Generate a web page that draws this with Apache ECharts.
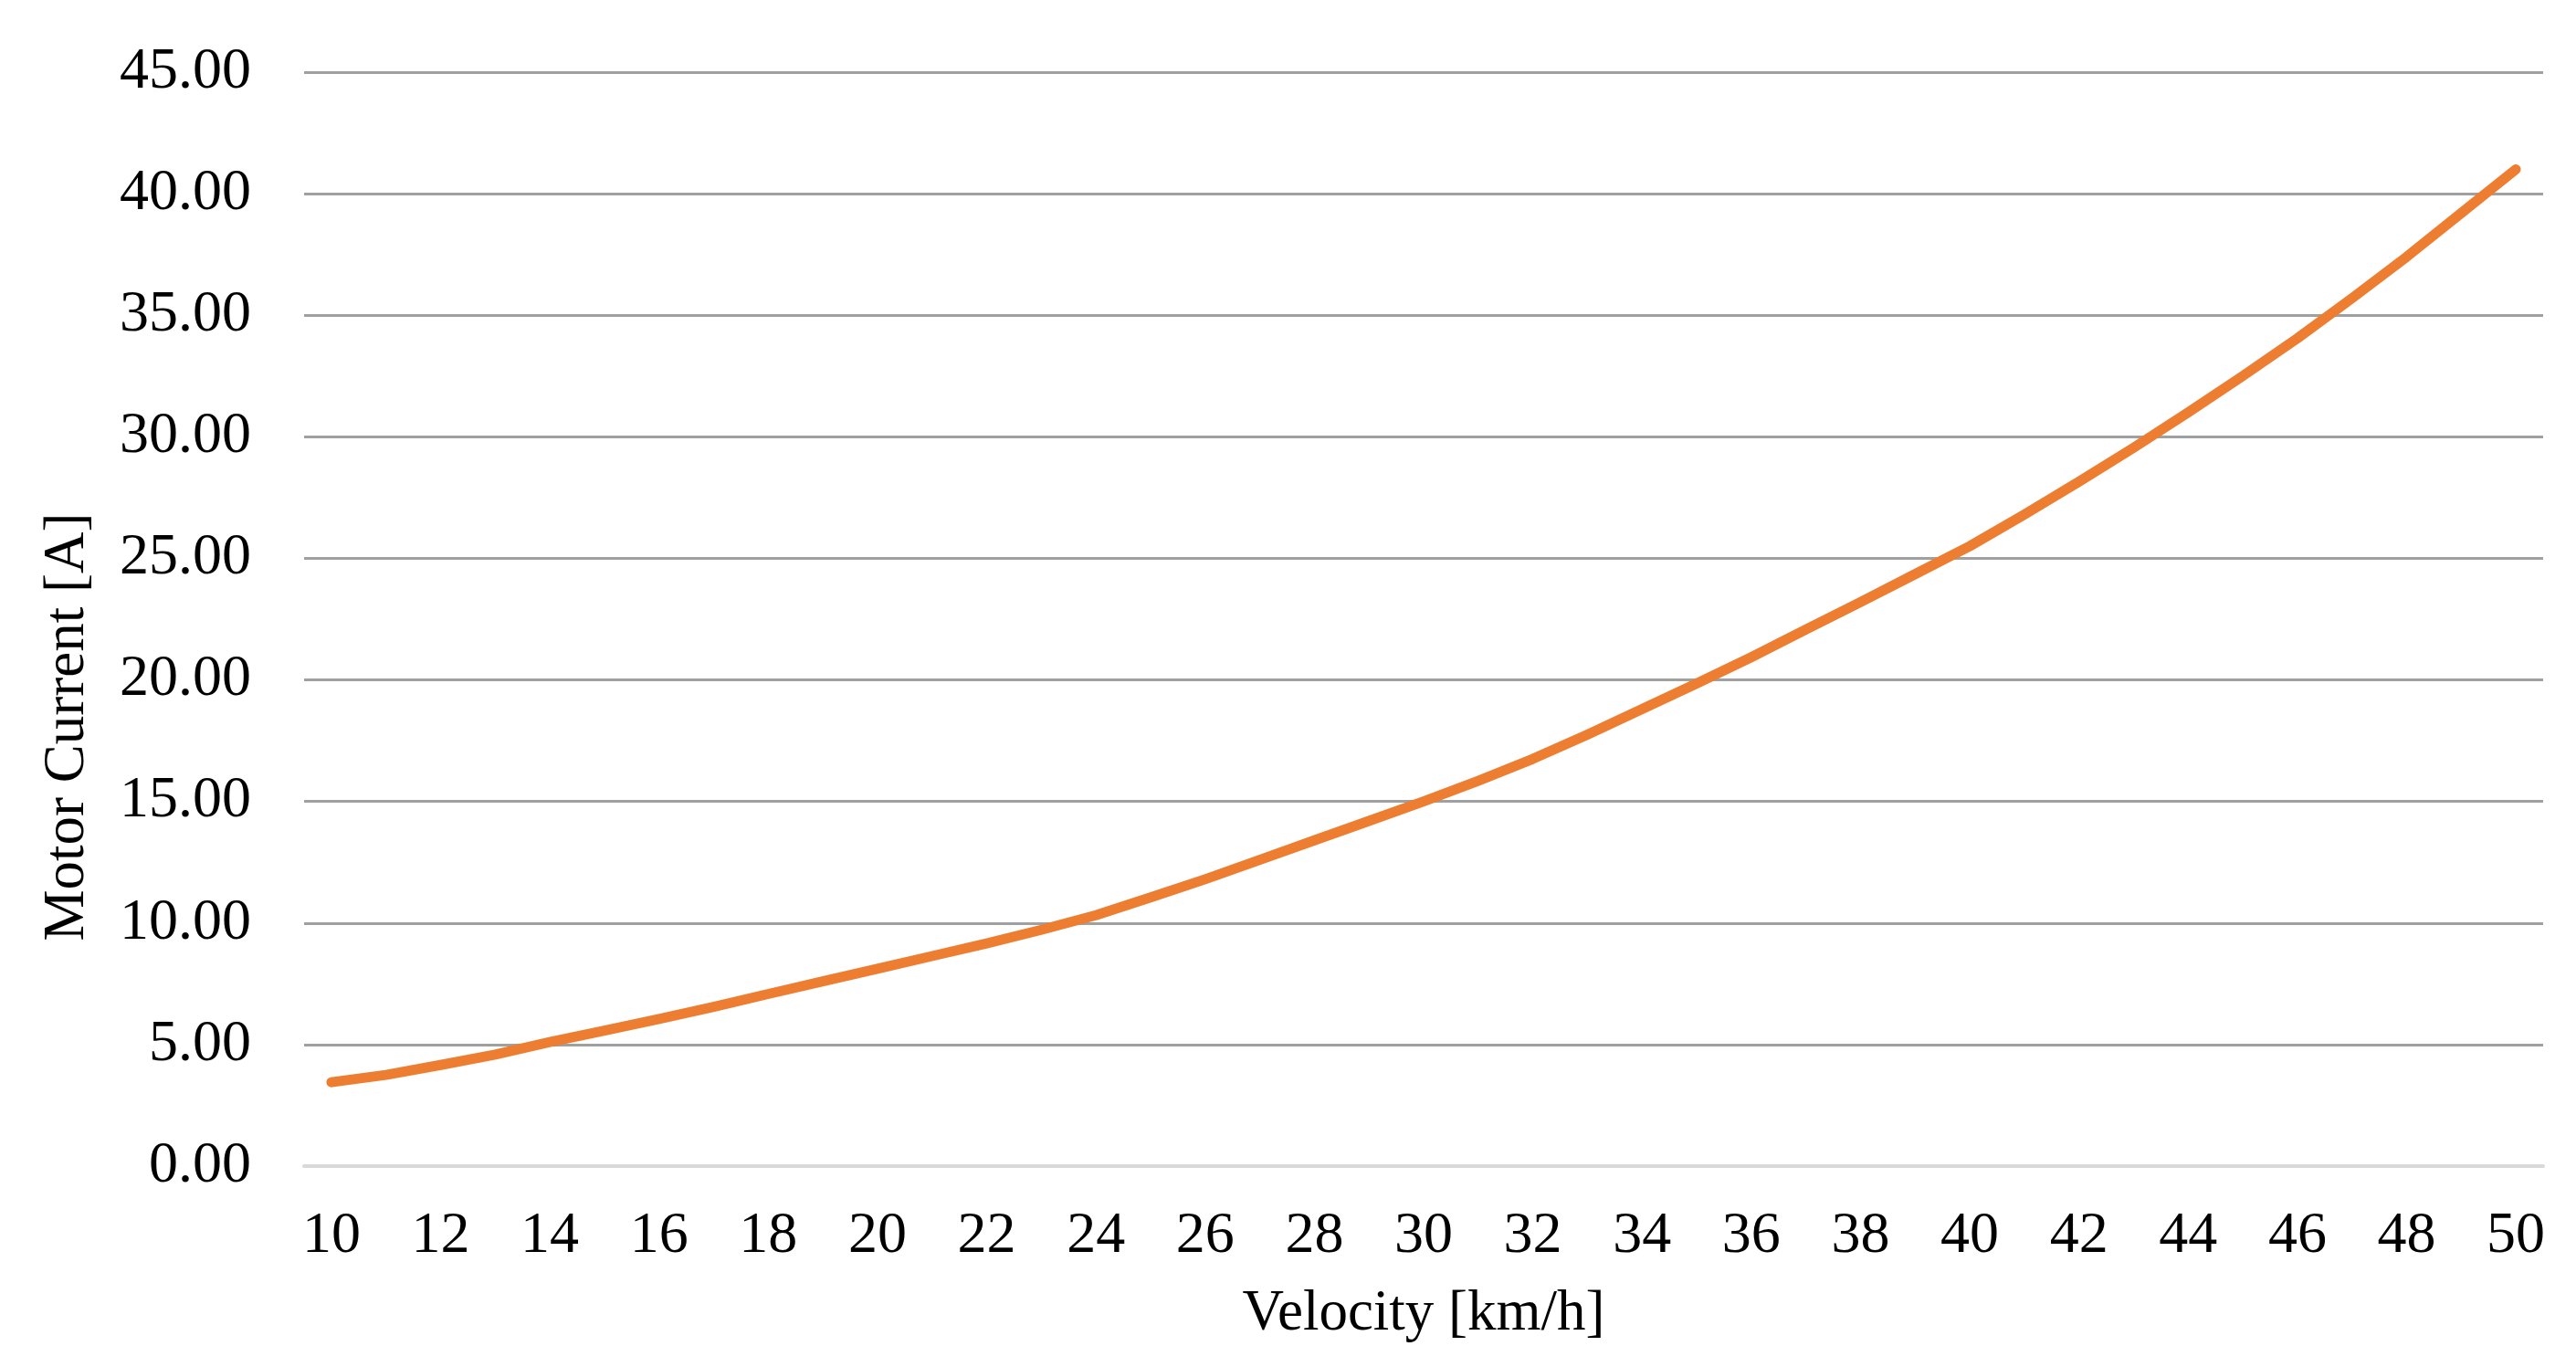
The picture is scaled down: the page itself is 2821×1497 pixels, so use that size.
<!DOCTYPE html>
<html>
<head>
<meta charset="utf-8">
<script src="https://cdn.jsdelivr.net/npm/echarts@6/dist/echarts.min.js"></script>
<style>
  html, body { margin: 0; padding: 0; background: #ffffff; }
  #chart { width: 2821px; height: 1497px; }
</style>
</head>
<body>
<div id="chart"></div>
<script>
// Velocity categories [km/h]
const velocity = [10,11,12,13,14,15,16,17,18,19,20,21,22,23,24,25,26,27,28,29,30,
                  31,32,33,34,35,36,37,38,39,40,41,42,43,44,45,46,47,48,49,50];
// Motor current [A]
const motorCurrent = [3.45,3.75,4.16,4.59,5.10,5.57,6.05,6.55,7.08,7.60,8.12,8.64,9.16,9.72,10.32,11.05,11.80,12.60,13.40,14.20,15.00,
                      15.85,16.75,17.75,18.80,19.85,20.93,22.07,23.20,24.35,25.50,26.80,28.15,29.55,31.00,32.50,34.05,35.70,37.40,39.20,41.00];
const yTicks = { min: 0, max: 45, step: 5 };
const xTitle = 'Velocity [km/h]';
const yTitle = 'Motor Current [A]';

const FONT = '"Liberation Serif", "Times New Roman", serif';
const chart = echarts.init(document.getElementById('chart'), null, { renderer: 'canvas' });
chart.setOption({
  backgroundColor: '#ffffff',
  animation: false,
  grid: { left: 333, right: 36, top: 79, bottom: 220, containLabel: false },
  xAxis: {
    type: 'category',
    data: velocity.map(String),
    boundaryGap: true,
    name: xTitle,
    nameLocation: 'middle',
    nameGap: 131,
    nameTextStyle: { fontFamily: FONT, fontSize: 63, color: '#000' },
    axisLine: { show: true, lineStyle: { color: '#d9d9d9', width: 4 } },
    axisTick: { show: false },
    axisLabel: { interval: 1, margin: 45, fontFamily: FONT, fontSize: 64, color: '#000' },
    splitLine: { show: false }
  },
  yAxis: {
    type: 'value',
    min: yTicks.min, max: yTicks.max, interval: yTicks.step,
    name: yTitle,
    nameLocation: 'middle',
    nameGap: 227,
    nameTextStyle: { fontFamily: FONT, fontSize: 63, color: '#000', padding: [0, 236, 0, 0] },
    axisLine: { show: false },
    axisTick: { show: false },
    axisLabel: { margin: 58, fontFamily: FONT, fontSize: 64, color: '#000',
                 formatter: v => v.toFixed(2) },
    splitLine: { show: true, lineStyle: { color: '#a0a0a0', width: 3 } }
  },
  series: [{
    type: 'line',
    data: motorCurrent,
    showSymbol: false,
    smooth: false,
    lineStyle: { color: '#ED7D31', width: 11, cap: 'round', join: 'round' },
    itemStyle: { color: '#ED7D31' },
    z: 5
  }]
});
</script>
</body>
</html>
